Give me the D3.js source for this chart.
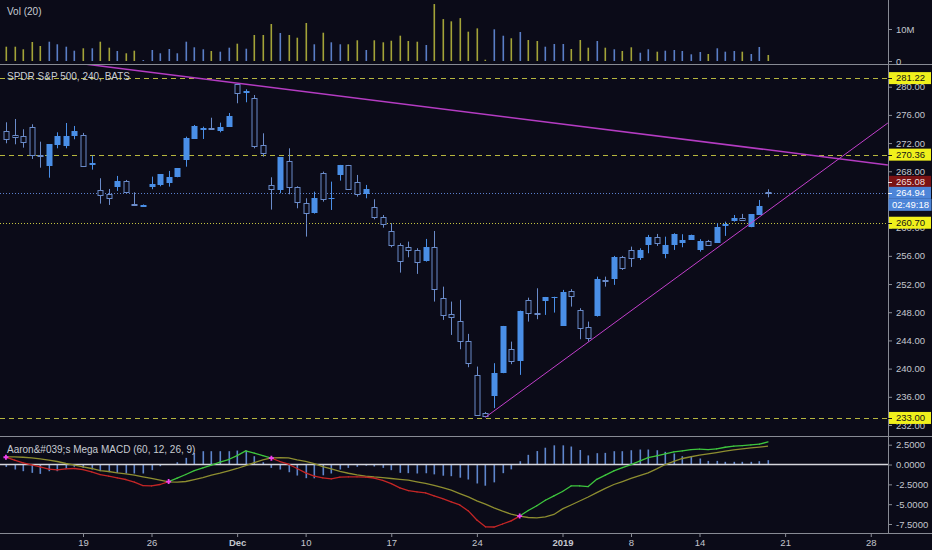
<!DOCTYPE html>
<html><head><meta charset="utf-8">
<script src="https://cdn.jsdelivr.net/npm/d3@7"></script>
<style>html,body{margin:0;padding:0;background:#0b0b18;overflow:hidden}svg{display:block}</style>
</head><body><svg id="c" width="932" height="550"></svg>
<script>
// ---------- DATA ----------
const tradingDays = ["2018-11-12","2018-11-13","2018-11-14","2018-11-15","2018-11-16",
"2018-11-19","2018-11-20","2018-11-21","2018-11-23",
"2018-11-26","2018-11-27","2018-11-28","2018-11-29","2018-11-30",
"2018-12-03","2018-12-04","2018-12-06","2018-12-07",
"2018-12-10","2018-12-11","2018-12-12","2018-12-13","2018-12-14",
"2018-12-17","2018-12-18","2018-12-19","2018-12-20","2018-12-21",
"2018-12-24","2018-12-26","2018-12-27","2018-12-28",
"2018-12-31","2019-01-02","2019-01-03","2019-01-04",
"2019-01-07","2019-01-08","2019-01-09","2019-01-10","2019-01-11",
"2019-01-14","2019-01-15","2019-01-16","2019-01-17","2019-01-18",
"2019-01-21","2019-01-22","2019-01-23","2019-01-24","2019-01-25","2019-01-28"];
const sessionsPerDay = 2;
const firstBar = 1; // first visible bar = 2nd session of 2018-11-12

const open = [273.72,273.15,272.97,274.24,270.31,268.75,271.83,271.63,273.05,273.11,
268.85,265.39,264.74,265.82,266.63,263.30,262.98,265.78,266.06,266.34,
267.15,269.60,272.68,273.82,274.10,273.82,274.29,280.34,279.15,278.44,
271.69,266.02,265.35,269.46,265.78,263.46,261.99,267.72,264.10,267.48,
268.90,266.53,264.78,262.98,261.56,259.53,257.55,257.22,256.84,255.18,
257.22,249.99,247.72,246.81,243.93,239.11,233.68,236.03,239.35,242.75,
241.10,249.75,247.95,249.65,250.10,246.06,251.07,248.33,245.88,247.48,
252.60,252.72,255.80,256.84,255.66,257.55,258.64,256.27,257.55,257.79,
258.26,256.94,258.16,257.88,260.24,260.85,261.33,260.06,261.80,265.00];
const high = [274.95,275.42,273.96,274.67,272.20,271.83,273.53,274.85,274.43,273.44,
270.22,267.01,265.49,267.34,266.77,265.02,263.29,267.24,267.58,268.05,
268.43,272.91,274.57,274.33,275.60,274.90,276.27,280.34,279.64,278.82,
273.39,267.15,269.99,271.26,265.87,264.17,265.11,267.95,266.53,268.90,
268.90,267.48,266.06,264.03,261.80,260.63,257.79,258.02,257.08,258.40,
259.53,251.63,249.51,249.75,244.93,240.29,233.85,240.77,246.06,243.83,
248.23,250.07,251.40,250.17,250.20,251.17,251.27,248.57,246.67,253.05,
253.05,255.99,255.99,257.31,257.08,258.97,259.11,258.72,259.21,259.07,
259.01,258.36,258.26,260.63,260.85,261.80,261.95,261.90,263.93,265.45];
const low = [271.97,271.83,271.35,269.75,268.51,267.09,271.26,271.26,272.54,268.61,
268.23,263.41,263.22,265.21,264.92,263.15,262.94,265.45,265.87,265.82,
267.15,268.65,272.68,272.58,273.96,273.53,274.29,277.65,277.79,271.26,
270.07,262.56,264.88,264.74,262.75,258.73,261.99,263.69,262.51,266.67,
265.53,264.40,264.17,261.19,260.00,257.22,253.62,255.80,253.44,255.18,
249.51,246.91,244.78,242.75,240.20,233.44,233.10,234.39,239.35,240.63,
239.11,246.67,247.01,247.62,247.95,246.06,248.80,244.17,243.83,247.38,
251.63,251.88,254.00,254.43,255.42,256.37,257.41,255.66,256.84,257.22,
258.26,256.60,257.48,257.88,258.83,260.85,260.99,260.06,261.80,264.31];
const close = [272.54,272.91,272.06,270.31,270.13,271.83,273.05,273.05,273.76,268.75,
269.18,264.64,264.17,266.63,265.02,263.22,263.20,266.16,267.58,267.19,
268.43,272.68,274.47,274.10,274.00,274.33,275.80,279.07,279.39,271.63,
270.50,265.39,269.99,265.78,263.69,262.04,264.17,264.07,264.20,268.90,
265.53,264.88,265.45,261.56,260.53,257.51,255.32,256.84,255.18,257.22,
251.27,247.62,247.34,243.97,240.77,233.44,233.20,239.35,246.06,241.10,
248.23,247.95,247.76,250.17,250.20,250.88,250.31,245.73,244.31,252.72,
252.50,255.80,254.24,255.75,256.84,258.64,257.79,257.55,259.11,258.26,
259.01,258.16,257.55,260.14,260.48,261.33,260.99,261.90,263.12,264.94];
// volume, millions
const volume = [4.47,4.47,3.66,5.94,4.69,6.03,5.22,4.47,3.22,3.97,
3.97,6.03,4.16,3.13,2.41,3.22,0.3,3.44,2.41,3.75,
2.41,6.03,4.28,3.66,3.13,2.91,4.16,5.41,3.84,8.13,
8.13,11.56,8.75,8.13,7.28,11.88,5.22,8.84,5.84,5.22,
5.22,6.47,3.44,6.47,5.84,6.34,7.91,6.25,6.03,5.0,
17.8,13.1,12.4,13.4,9.16,10.2,0.4,9.9,7.9,7.1,
9.06,6.56,6.25,4.47,5.31,5.31,3.75,6.56,4.16,6.25,
4.16,3.66,3.13,4.28,2.59,3.66,2.91,3.22,3.44,3.13,
2.09,2.81,2.19,3.97,2.91,3.13,2.91,2.19,4.38,1.88];
const macdLine = [0.92,0.55,0.21,-0.04,-0.29,-0.59,-0.67,-0.55,-0.50,-0.63,
-0.92,-1.26,-1.47,-1.68,-1.89,-2.23,-2.65,-2.69,-2.52,-2.15,
-1.72,-1.26,-0.76,-0.42,-0.08,0.29,0.63,1.13,1.72,1.43,
1.13,0.80,0.38,0.04,-0.50,-1.05,-1.45,-1.68,-1.80,-1.60,
-1.55,-1.55,-1.58,-1.70,-2.00,-2.40,-2.95,-3.30,-3.45,-3.57,
-3.95,-4.30,-4.70,-5.10,-5.85,-7.00,-7.85,-7.88,-7.50,-7.10,
-6.50,-5.80,-5.20,-4.50,-3.95,-3.40,-2.70,-2.70,-2.78,-1.87,
-1.34,-0.80,-0.38,0.00,0.42,0.88,1.09,1.34,1.60,1.72,
1.89,1.93,1.89,1.97,2.18,2.31,2.39,2.48,2.56,2.86];
const signalLine = [0.97,0.97,0.92,0.84,0.71,0.55,0.38,0.13,-0.08,-0.29,
-0.50,-0.76,-0.88,-1.05,-1.18,-1.34,-1.55,-1.76,-1.97,-2.18,
-2.23,-2.14,-1.89,-1.64,-1.34,-1.09,-0.80,-0.50,-0.13,0.25,
0.59,0.84,0.88,0.84,0.60,0.40,0.10,-0.25,-0.55,-0.85,
-1.10,-1.30,-1.45,-1.57,-1.66,-1.76,-1.87,-1.97,-2.18,-2.39,
-2.63,-2.92,-3.24,-3.66,-4.08,-4.58,-5.00,-5.46,-5.88,-6.26,
-6.51,-6.68,-6.72,-6.60,-6.30,-5.60,-5.10,-4.60,-4.10,-3.55,
-3.00,-2.52,-2.15,-1.76,-1.40,-1.05,-0.55,0.00,0.40,0.76,
0.98,1.18,1.35,1.51,1.68,1.85,1.97,2.10,2.20,2.31];
const histogram = [-0.3,-0.63,-0.84,-1.05,-1.18,-0.84,-0.84,-0.5,-0.29,-0.42,
-0.63,-0.84,-0.97,-1.05,-1.13,-1.13,-1.13,-0.71,-0.21,0.05,
0.29,0.84,1.47,1.68,1.68,1.68,1.68,1.76,1.76,1.05,
0.29,-0.42,-0.63,-0.97,-1.39,-1.72,-1.74,-1.36,-1.13,-0.63,
-0.42,-0.29,-0.15,-0.25,-0.42,-0.71,-1.05,-1.09,-1.13,-1.10,
-1.24,-1.41,-1.47,-1.66,-1.89,-2.39,-2.67,-2.25,-1.09,-0.61,
0.42,1.22,1.70,2.12,2.42,2.42,2.27,1.83,1.15,1.43,
1.47,1.68,1.68,1.80,1.89,1.89,1.80,1.60,1.39,1.05,
0.97,0.76,0.46,0.46,0.34,0.34,0.34,0.34,0.42,0.55];
const crossBars = [1, 20, 32, 61];

const tickDays = ["2018-11-19","2018-11-26","2018-12-03","2018-12-10","2018-12-17","2018-12-24",
                  "2019-01-02","2019-01-08","2019-01-14","2019-01-21","2019-01-28"];
const tickLabels = ["19","26","Dec","10","17","24","2019","8","14","21","28"];
const boldTicks = ["Dec","2019"];
// 264.00 is hidden behind the last-price labels in the reference, so it is not listed
const priceTicks = [232,236,240,244,248,252,256,260,268,272,276,280];
const volTicks = [0, 10];
const macdTicks = [-7.5,-5,-2.5,0,2.5];
const dashedLevels = [281.22, 270.36, 233.00];
const dottedLevels = [260.70];
const lastPrice = 264.94, markPrice = 265.08, countdown = "02:49:18";
// trend lines: [barIndex, price]
const trendDown = [[28, 280.5], [104, 268.9]];
const trendUp = [[57, 233.1], [104, 274.85]];

// ---------- LAYOUT ----------
const BG = "#0b0b18", AX = "#888b94", TXT = "#c3c6ce";
const plotR = 888;
const svg = d3.select("#c");
svg.append("rect").attr("width",932).attr("height",550).attr("fill",BG);

const x = d3.scaleLinear().domain([0, 104]).range([-2.625, 887.875]);
const yVol = d3.scaleLinear().domain([0, 10]).range([61, 29]);
const yP = d3.scaleLinear().domain([232, 280]).range([425, 86.7]);
const yM = d3.scaleLinear().domain([-7.5, 2.5]).range([524, 444.7]);
const dayIndex = d => tradingDays.indexOf(d) * sessionsPerDay;

const bars = open.map((o, j) => ({g: firstBar + j, o, h: high[j], l: low[j], c: close[j],
  v: volume[j], m: macdLine[j], s: signalLine[j], hist: histogram[j]}));
const cxOf = g => Math.round(x(g)) + 0.5;

const defs = svg.append("defs");
[["cv",0,0,plotR,64],["cp",0,64,plotR,372],["cm",0,436,plotR,97]].forEach(([id,a,b,w,h]) =>
  defs.append("clipPath").attr("id",id).append("rect").attr("x",a).attr("y",b).attr("width",w).attr("height",h));

// ---------- VOLUME ----------
const gv = svg.append("g").attr("clip-path","url(#cv)");
gv.selectAll("rect").data(bars).join("rect")
  .attr("x", d => Math.round(x(d.g)) - 0.5).attr("width", 1.6)
  .attr("y", d => yVol(d.v)).attr("height", d => yVol(0) - yVol(d.v))
  .attr("fill", d => d.c >= d.o ? "#5a7ec6" : "#a3a338");

// ---------- PRICE PANEL ----------
const gp = svg.append("g").attr("clip-path","url(#cp)");
gp.selectAll("line.dash").data(dashedLevels).join("line").attr("class","dash")
  .attr("x1",0).attr("x2",plotR).attr("y1",d=>Math.round(yP(d))+0.5).attr("y2",d=>Math.round(yP(d))+0.5)
  .attr("stroke","#b6b63e").attr("stroke-width",1).attr("stroke-dasharray","5,4");
gp.selectAll("line.dot").data(dottedLevels).join("line").attr("class","dot")
  .attr("x1",0).attr("x2",plotR).attr("y1",d=>Math.round(yP(d))+0.5).attr("y2",d=>Math.round(yP(d))+0.5)
  .attr("stroke","#c4c442").attr("stroke-width",1).attr("stroke-dasharray","1,2");
gp.append("line").attr("x1",0).attr("x2",plotR)
  .attr("y1",Math.round(yP(lastPrice))+0.5).attr("y2",Math.round(yP(lastPrice))+0.5)
  .attr("stroke","#5b80cc").attr("stroke-width",1).attr("stroke-dasharray","1,2");

const FILL = "#4a8fe7", HOLLOW = "#6a8bc9";
const cg = gp.selectAll("g.candle").data(bars).join("g").attr("class","candle");
cg.append("line")
  .attr("x1", d => cxOf(d.g)).attr("x2", d => cxOf(d.g))
  .attr("y1", d => yP(d.h)).attr("y2", d => yP(d.l))
  .attr("stroke", d => d.c >= d.o ? FILL : HOLLOW).attr("stroke-width", 1);
cg.append("rect")
  .attr("x", d => d.c >= d.o ? cxOf(d.g) - 3 : cxOf(d.g) - 2.5)
  .attr("width", d => d.c >= d.o ? 6 : 5)
  .attr("y", d => Math.round(yP(Math.max(d.o, d.c))) + (d.c >= d.o ? 0 : 0.5))
  .attr("height", d => Math.max(1, Math.round(yP(Math.min(d.o, d.c)) - yP(Math.max(d.o, d.c)))))
  .attr("fill", d => d.c >= d.o ? FILL : BG)
  .attr("stroke", d => d.c >= d.o ? "none" : HOLLOW).attr("stroke-width", 1);

// trend lines
function trendPath(pts, extendLeft) {
  const [[g1,p1],[g2,p2]] = pts;
  const slope = (p2 - p1) / (g2 - g1);
  const gs = extendLeft ? -2 : g1;
  return [[x(gs), yP(p1 + slope * (gs - g1))], [x(g2), yP(p2)]];
}
gp.append("path").attr("d", d3.line()(trendPath(trendDown, true)))
  .attr("stroke","#b43cc2").attr("stroke-width",1.5).attr("fill","none");
gp.append("path").attr("d", d3.line()(trendPath(trendUp, false)))
  .attr("stroke","#c23fcb").attr("stroke-width",1).attr("fill","none");

// ---------- MACD PANEL ----------
const gm = svg.append("g").attr("clip-path","url(#cm)");
gm.selectAll("rect").data(bars).join("rect")
  .attr("x", d => Math.round(x(d.g)) - 0.5).attr("width", 1.6)
  .attr("y", d => Math.min(yM(0), yM(d.hist))).attr("height", d => Math.abs(yM(d.hist) - yM(0)))
  .attr("fill", "#5f86cc");
gm.append("line").attr("x1",0).attr("x2",plotR).attr("y1",yM(0)).attr("y2",yM(0))
  .attr("stroke","#d6d6dc").attr("stroke-width",1.5);
gm.append("path").datum(bars)
  .attr("d", d3.line().x(d => x(d.g)).y(d => yM(d.s)))
  .attr("stroke","#8e8e30").attr("stroke-width",1.3).attr("fill","none");
const segs = bars.slice(0, -1).map((d, j) => [d, bars[j + 1]]);
gm.selectAll("line.seg").data(segs).join("line").attr("class","seg")
  .attr("x1", d => x(d[0].g)).attr("y1", d => yM(d[0].m))
  .attr("x2", d => x(d[1].g)).attr("y2", d => yM(d[1].m))
  .attr("stroke", d => d[0].m > d[0].s ? "#3ec63e" : "#c42626").attr("stroke-width",1.3)
  .attr("stroke-linecap","round");
const crosses = bars.filter(d => crossBars.includes(d.g));
gm.selectAll("path.cross").data(crosses).join("path").attr("class","cross")
  .attr("d", d => { const cx = x(d.g), cy = yM(d.m); return `M${cx-2.5},${cy}H${cx+2.5}M${cx},${cy-2.5}V${cy+2.5}`; })
  .attr("stroke","#f040f0").attr("stroke-width",1.8);

// ---------- SEPARATORS ----------
[64, 436, 533].forEach(yy => svg.append("line").attr("x1",0).attr("x2",932)
  .attr("y1",yy+0.5).attr("y2",yy+0.5).attr("stroke",AX).attr("stroke-width",1));
svg.append("line").attr("x1",plotR+0.5).attr("x2",plotR+0.5).attr("y1",0).attr("y2",533)
  .attr("stroke",AX).attr("stroke-width",1);

// ---------- AXES ----------
const FONT = "'Liberation Sans', Arial, sans-serif";
function styleAxis(g) {
  g.select(".domain").remove();
  g.selectAll(".tick line").attr("stroke", AX);
  g.selectAll(".tick text").attr("fill", TXT).style("font-family", FONT).style("font-size","9.5px");
}
svg.append("g").attr("transform",`translate(${plotR},0)`)
  .call(d3.axisRight(yP).tickValues(priceTicks).tickFormat(d => d.toFixed(2)).tickSize(4).tickPadding(4))
  .call(styleAxis);
svg.append("g").attr("transform",`translate(${plotR},0)`)
  .call(d3.axisRight(yVol).tickValues(volTicks).tickFormat(d => d === 0 ? "0" : d + "M").tickSize(4).tickPadding(4))
  .call(styleAxis);
svg.append("g").attr("transform",`translate(${plotR},0)`)
  .call(d3.axisRight(yM).tickValues(macdTicks).tickFormat(d => d.toFixed(4)).tickSize(4).tickPadding(4))
  .call(styleAxis);
const tickG = tickDays.map(dayIndex);
const xa = svg.append("g").attr("transform","translate(0,533)")
  .call(d3.axisBottom(x).tickValues(tickG).tickFormat((d, i) => tickLabels[i]).tickSize(4).tickPadding(2))
  .call(styleAxis);
xa.selectAll(".tick text").style("font-weight", (d, i) => boldTicks.includes(tickLabels[i]) ? "bold" : "normal");

// ---------- PRICE LABELS ----------
function label(yc, text, bg, fg, opts) {
  const o = Object.assign({x: plotR + 1, w: 42, tx: plotR + 8, tick: true}, opts || {});
  svg.append("rect").attr("x", o.x).attr("y", yc - 6).attr("width", o.w).attr("height", 12).attr("fill", bg);
  if (o.tick) svg.append("line").attr("x1",plotR).attr("x2",plotR+4).attr("y1",Math.round(yc)+0.5).attr("y2",Math.round(yc)+0.5).attr("stroke", fg);
  svg.append("text").attr("x", o.tx).attr("y", yc).attr("dy","0.35em").text(text)
    .attr("fill", fg).style("font-family", FONT).style("font-size","9.5px");
}
dashedLevels.concat(dottedLevels).forEach(v => label(yP(v), v.toFixed(2), "#f0f01c", "#141414"));
label(yP(lastPrice) - 11, markPrice.toFixed(2), "#7a1214", "#f2dede");
label(yP(lastPrice), lastPrice.toFixed(2), "#4d85d8", "#ffffff");
label(yP(lastPrice) + 12, countdown, "#4d85d8", "#ffffff", {x: plotR + 0.5, w: 43, tx: plotR + 4, tick: false});

// ---------- LEGENDS ----------
const legend = (yy, t) => svg.append("text").attr("x",7).attr("y",yy).attr("dy","0.35em").text(t)
  .attr("fill","#c8cbd3").style("font-family",FONT).style("font-size","10px");
legend(11.5, "Vol (20)");
legend(76.5, "SPDR S&P 500, 240, BATS");
legend(449, "Aaron&#039;s Mega MACD (60, 12, 26, 9)");
</script></body></html>
